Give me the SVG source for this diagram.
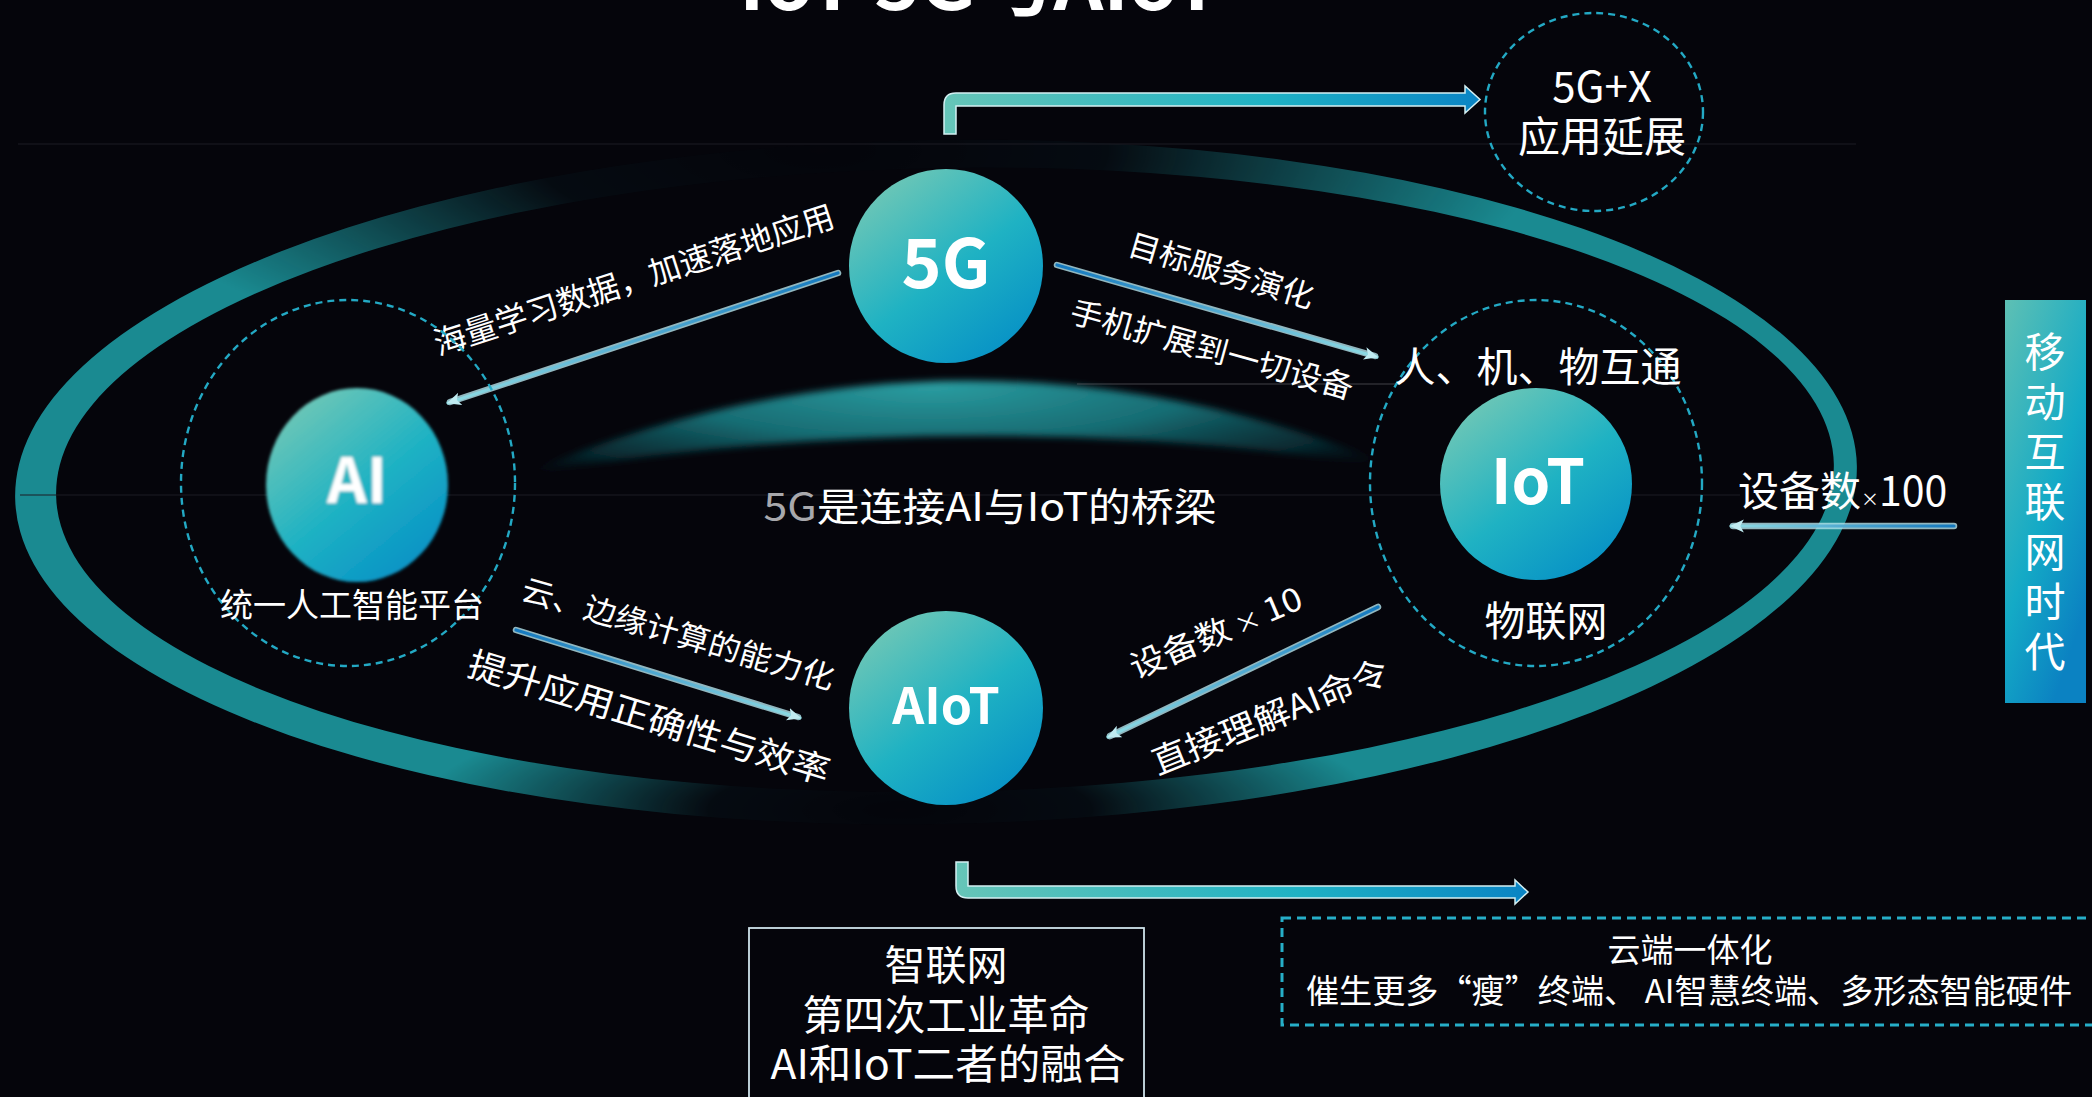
<svg xmlns="http://www.w3.org/2000/svg" width="2092" height="1097" viewBox="0 0 2092 1097">
<style>
.t{font-family:"Noto Sans CJK SC","Noto Sans",sans-serif;fill:#ffffff;}
.m{text-anchor:middle}
.b{font-weight:700}
.dashc{fill:none;stroke:#23a9c4;stroke-width:2.4;stroke-dasharray:7 5}
.node{fill:url(#nodeG)}
.bar{stroke:#d3eff2;stroke-width:1.5}
.halo{fill:none;stroke:#b4e4ec;stroke-width:6.5;stroke-linecap:round;opacity:0.8}
.core{fill:none;stroke-width:3.2;stroke-linecap:round}
.faint{stroke:#1c1c24;stroke-width:1;fill:none}
</style>
<defs>
<linearGradient id="nodeG" x1="0.2" y1="0.1" x2="0.85" y2="0.95">
<stop offset="0" stop-color="#68c5b7"/><stop offset="0.5" stop-color="#1fb2c3"/><stop offset="1" stop-color="#0690c6"/>
</linearGradient>
<linearGradient id="sideG" x1="0" y1="0" x2="0.6" y2="1">
<stop offset="0" stop-color="#5ec0b4"/><stop offset="0.6" stop-color="#14aac6"/><stop offset="1" stop-color="#0b82c2"/>
</linearGradient>
<linearGradient id="barTop" gradientUnits="userSpaceOnUse" x1="944" y1="0" x2="1480" y2="0">
<stop offset="0" stop-color="#66c5b8"/><stop offset="0.6" stop-color="#1fb2c4"/><stop offset="1" stop-color="#0a84c4"/>
</linearGradient>
<linearGradient id="barBot" gradientUnits="userSpaceOnUse" x1="956" y1="0" x2="1528" y2="0">
<stop offset="0" stop-color="#66c5b8"/><stop offset="0.6" stop-color="#1fb2c4"/><stop offset="1" stop-color="#0a84c4"/>
</linearGradient>
<linearGradient id="g1" gradientUnits="userSpaceOnUse" x1="838" y1="273" x2="448" y2="403">
<stop offset="0" stop-color="#1479bf"/><stop offset="1" stop-color="#8fdce4"/>
</linearGradient>
<linearGradient id="g2" gradientUnits="userSpaceOnUse" x1="1057" y1="265" x2="1377" y2="357">
<stop offset="0" stop-color="#1479bf"/><stop offset="1" stop-color="#8fdce4"/>
</linearGradient>
<linearGradient id="g3" gradientUnits="userSpaceOnUse" x1="516" y1="630" x2="800" y2="718">
<stop offset="0" stop-color="#1479bf"/><stop offset="1" stop-color="#8fdce4"/>
</linearGradient>
<linearGradient id="g4" gradientUnits="userSpaceOnUse" x1="1378" y1="607" x2="1108" y2="737">
<stop offset="0" stop-color="#1479bf"/><stop offset="1" stop-color="#8fdce4"/>
</linearGradient>
<linearGradient id="g5" gradientUnits="userSpaceOnUse" x1="1954" y1="526" x2="1731" y2="526">
<stop offset="0" stop-color="#1479bf"/><stop offset="1" stop-color="#8fdce4"/>
</linearGradient>
<radialGradient id="fadeK">
<stop offset="0" stop-color="#000" stop-opacity="1"/><stop offset="0.4" stop-color="#000" stop-opacity="0.95"/><stop offset="1" stop-color="#000" stop-opacity="0"/>
</radialGradient>
<mask id="ringMask" maskUnits="userSpaceOnUse" x="0" y="0" width="2092" height="1097">
<rect width="2092" height="1097" fill="#fff"/>
<ellipse cx="820" cy="150" rx="720" ry="240" fill="url(#fadeK)"/>
<ellipse cx="900" cy="810" rx="480" ry="120" fill="url(#fadeK)"/>
</mask>
<radialGradient id="arcG" gradientUnits="userSpaceOnUse" cx="930" cy="385" r="600" gradientTransform="translate(930 385) scale(1 0.2) translate(-930 -385)">
<stop offset="0" stop-color="#2b9ea2" stop-opacity="1"/><stop offset="0.45" stop-color="#1a7f86" stop-opacity="0.85"/><stop offset="0.8" stop-color="#0d4d55" stop-opacity="0.5"/><stop offset="1" stop-color="#081f26" stop-opacity="0"/>
</radialGradient>
<marker id="ah" viewBox="0 0 12 12" refX="11" refY="6" markerWidth="14" markerHeight="14" markerUnits="userSpaceOnUse" orient="auto">
<path d="M0,0.5 L12,6 L0,11.5 L3,6 Z" fill="#c0ecf2"/>
</marker>
<filter id="soft" x="-20%" y="-20%" width="140%" height="140%"><feGaussianBlur stdDeviation="1.8"/></filter>
<filter id="softer" x="-10%" y="-50%" width="120%" height="200%"><feGaussianBlur stdDeviation="3.5"/></filter>
</defs>

<rect width="2092" height="1097" fill="#05050b"/>

<g id="backdrop">
<g mask="url(#ringMask)">
<path transform="rotate(-1 936 482)" d="M 15 482 a 921 342 0 1 0 1842 0 a 921 342 0 1 0 -1842 0 Z M 56 480 a 889 312 0 1 0 1778 0 a 889 312 0 1 0 -1778 0 Z" fill="#1a8a91" fill-rule="evenodd"/>
</g>
<path d="M 520 475 Q 960 290 1400 468 Q 960 400 520 475 Z" fill="url(#arcG)" filter="url(#softer)"/>
<line class="faint" x1="18" y1="144" x2="1856" y2="144"/>
<line class="faint" x1="20" y1="495" x2="1740" y2="495" stroke="#2a2a32"/>
<line x1="1077" y1="384" x2="1400" y2="384" stroke="#6a6a70" stroke-width="1" opacity="0.6"/>
</g>

<g id="title">
<text class="t b m" x="980" y="10" font-size="72" textLength="482" lengthAdjust="spacingAndGlyphs">IoT 5G与AIoT</text>
</g>

<g id="connectors">
<line class="halo" x1="838" y1="273" x2="450" y2="402"/>
<line class="core" x1="838" y1="273" x2="448" y2="403" stroke="url(#g1)" marker-end="url(#ah)"/>
<line class="halo" x1="1057" y1="265" x2="1375" y2="356"/>
<line class="core" x1="1057" y1="265" x2="1377" y2="357" stroke="url(#g2)" marker-end="url(#ah)"/>
<line class="halo" x1="516" y1="630" x2="798" y2="717"/>
<line class="core" x1="516" y1="630" x2="800" y2="718" stroke="url(#g3)" marker-end="url(#ah)"/>
<line class="halo" x1="1378" y1="607" x2="1110" y2="736"/>
<line class="core" x1="1378" y1="607" x2="1108" y2="737" stroke="url(#g4)" marker-end="url(#ah)"/>
<line class="halo" x1="1954" y1="526" x2="1733" y2="526"/>
<line class="core" x1="1954" y1="526" x2="1731" y2="526" stroke="url(#g5)" marker-end="url(#ah)"/>

<path class="bar" d="M 944 134 V 105 Q 944 93 956 93 H 1465 V 86 L 1480 99.5 L 1465 113 V 106 H 956 V 134 Z" fill="url(#barTop)"/>
<path class="bar" d="M 956 862 V 886 Q 956 898 968 898 H 1515 V 904 L 1528 892 L 1515 880 V 886 H 968 V 862 Z" fill="url(#barBot)"/>

<text class="t m" x="637.5" y="290.7" font-size="32" textLength="419" lengthAdjust="spacingAndGlyphs" transform="rotate(-18 637.5 290.7)">海量学习数据，加速落地应用</text>
<text class="t m" x="1218" y="281.4" font-size="31" textLength="192" lengthAdjust="spacingAndGlyphs" transform="rotate(16.5 1218 281.4)">目标服务演化</text>
<text class="t m" x="1209" y="360.5" font-size="31" textLength="292" lengthAdjust="spacingAndGlyphs" transform="rotate(15.5 1209 360.5)">手机扩展到一切设备</text>
<text class="t m" x="675" y="644.5" font-size="31" textLength="324" lengthAdjust="spacingAndGlyphs" transform="rotate(16.2 675 644.5)">云、边缘计算的能力化</text>
<text class="t m" x="645.4" y="729.7" font-size="35" textLength="376" lengthAdjust="spacingAndGlyphs" transform="rotate(17 645.4 729.7)">提升应用正确性与效率</text>
<text class="t m" x="1220.4" y="643.3" font-size="32" textLength="184" lengthAdjust="spacingAndGlyphs" transform="rotate(-23 1220.4 643.3)">设备数<tspan font-size="24"> × </tspan>10</text>
<text class="t m" x="1274.5" y="728" font-size="34" textLength="252" lengthAdjust="spacingAndGlyphs" transform="rotate(-22 1274.5 728)">直接理解AI命令</text>
<text class="t" x="1738" y="506" font-size="41">设备数<tspan font-size="18">×</tspan>100</text>
<text class="t m" x="990" y="521" font-size="39" textLength="453" lengthAdjust="spacingAndGlyphs"><tspan fill="#a8a8ac">5G</tspan>是连接AI与IoT的桥梁</text>
</g>

<g id="node-5G">
<circle class="node" cx="946" cy="266" r="97"/>
<text class="t b m" x="946" y="288" font-size="68">5G</text>
</g>

<g id="node-AI">
<ellipse class="dashc" cx="348" cy="483" rx="167" ry="183"/>
<g filter="url(#soft)">
<ellipse class="node" cx="357" cy="485" rx="91" ry="97"/>
<text class="t b m" x="357" y="503" font-size="62">AI</text>
</g>
<text class="t m" x="352" y="617" font-size="33">统一人工智能平台</text>
</g>

<g id="node-IoT">
<ellipse class="dashc" cx="1536" cy="483" rx="166" ry="183"/>
<circle class="node" cx="1536" cy="484" r="96"/>
<text class="t b m" x="1538" y="504" font-size="62">IoT</text>
<text class="t m" x="1538" y="382" font-size="41">人、机、物互通</text>
<text class="t m" x="1546" y="636" font-size="41">物联网</text>
</g>

<g id="node-AIoT">
<circle class="node" cx="946" cy="708" r="97"/>
<text class="t b m" x="946" y="724" font-size="50">AIoT</text>
</g>

<g id="node-5GX">
<ellipse class="dashc" cx="1594" cy="112" rx="109" ry="99"/>
<text class="t m" x="1602" y="102" font-size="42">5G+X</text>
<text class="t m" x="1602" y="152" font-size="42">应用延展</text>
</g>

<g id="node-mobile">
<rect x="2005" y="300" width="81" height="403" fill="url(#sideG)"/>
<text class="t m" font-size="41"><tspan x="2045" y="367">移</tspan><tspan x="2045" y="417">动</tspan><tspan x="2045" y="467">互</tspan><tspan x="2045" y="517">联</tspan><tspan x="2045" y="567">网</tspan><tspan x="2045" y="617">时</tspan><tspan x="2045" y="667">代</tspan></text>
</g>

<g id="node-smartnet">
<rect x="749" y="928" width="395" height="200" fill="none" stroke="#cfe3ea" stroke-width="1.8"/>
<text class="t m" x="946" y="980" font-size="41">智联网</text>
<text class="t m" x="946" y="1030" font-size="41">第四次工业革命</text>
<text class="t m" x="948" y="1079" font-size="41" textLength="355" lengthAdjust="spacingAndGlyphs">AI和IoT二者的融合</text>
</g>

<g id="node-cloud">
<rect x="1282" y="918" width="900" height="107" fill="none" stroke="#26aec8" stroke-width="3" stroke-dasharray="9 6"/>
<text class="t m" x="1690" y="962" font-size="33">云端一体化</text>
<text class="t m" x="1689" y="1003" font-size="33" textLength="766" lengthAdjust="spacingAndGlyphs">催生更多“瘦”终端、 AI智慧终端、多形态智能硬件</text>
</g>
</svg>
